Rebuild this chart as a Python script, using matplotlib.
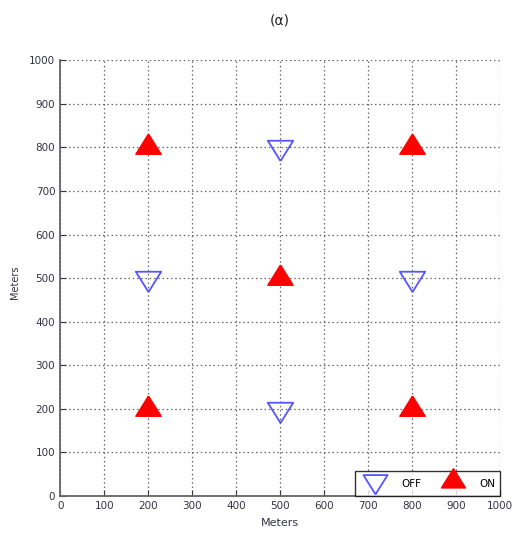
import matplotlib.pyplot as plt
import numpy as np

# marker positions (meters)
on_x = [200, 800, 500, 200, 800]
on_y = [800, 800, 500, 200, 200]
off_x = [500, 200, 800, 500]
off_y = [800, 500, 500, 200]
ticks = np.arange(0, 1001, 100)

# MATLAB-style triangles: wider than tall, centred on the centroid
tri_up = [(0, 1.067), (-1, -0.533), (1, -0.533), (0, 1.067)]
tri_down = [(0, -1.067), (-1, 0.533), (1, 0.533), (0, -1.067)]

fig = plt.figure(figsize=(5.14, 5.36), dpi=100)
ax = fig.add_axes([0.117, 0.0746, 0.856, 0.813])

off, = ax.plot(off_x, off_y, linestyle="none", marker=tri_down, markersize=19.5,
               markerfacecolor="none", markeredgecolor="#5555ff", markeredgewidth=1.3,
               label="OFF", clip_on=False, zorder=3)
on, = ax.plot(on_x, on_y, linestyle="none", marker=tri_up, markersize=19.5,
              markerfacecolor="red", markeredgecolor="red",
              label="ON", clip_on=False, zorder=3)

ax.set_xlim(0, 1000)
ax.set_ylim(0, 1000)
ax.set_xticks(ticks)
ax.set_yticks(ticks)
ax.grid(True, color="#666666", linestyle=(0, (1.2, 2.2)), linewidth=0.9)
ax.set_axisbelow(True)
ax.tick_params(labelsize=7.5, colors="#333344", direction="in", length=4)
for s in ["top", "right"]:
    ax.spines[s].set_visible(False)
for s in ["left", "bottom"]:
    ax.spines[s].set_color("#666666")
    ax.spines[s].set_linewidth(1.3)

ax.set_xlabel("Meters", fontsize=8, color="#333344", labelpad=5)
ax.set_ylabel("Meters", fontsize=7, color="#333344")
ax.yaxis.set_label_coords(-0.092, 0.49)
fig.text(0.545, 0.962, "(α)", ha="center", va="center", fontsize=10, color="#222222")

leg = ax.legend(handles=[off, on], loc="lower right", ncol=2, fontsize=7.5,
                frameon=True, fancybox=False, borderaxespad=0, markerscale=0.95,
                handlelength=3.0, handleheight=2.0, columnspacing=1.6,
                borderpad=0.45, handletextpad=1.0)
leg.get_frame().set_edgecolor("black")
leg.get_frame().set_linewidth(1.0)
leg.set_zorder(5)

fig.savefig("out.png", dpi=100)
